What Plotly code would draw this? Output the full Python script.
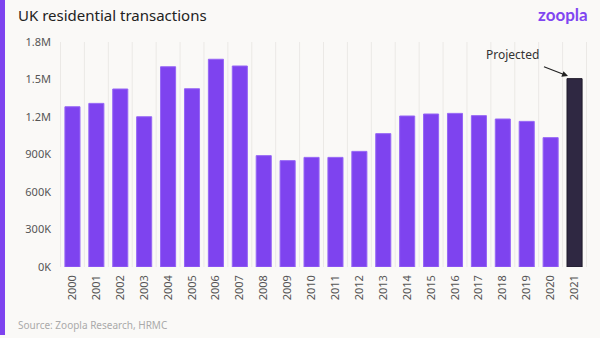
import plotly.graph_objects as go

years = [str(y) for y in range(2000, 2022)]
transactions = [1282000, 1309000, 1424000, 1202000, 1602000, 1426000, 1662000, 1608000,
                891000, 851000, 877000, 877000, 925000, 1067000, 1208000, 1224000,
                1229000, 1211000, 1184000, 1165000, 1035000, 1507000]
projected = [False] * 21 + [True]
tick_vals = [0, 300000, 600000, 900000, 1200000, 1500000, 1800000]
tick_text = ["0K", "300K", "600K", "900K", "1.2M", "1.5M", "1.8M"]

PURPLE = "#7e43ef"
DARK = "#2f2842"
bar_colors = [DARK if p else PURPLE for p in projected]
line_colors = ["#1e1a2a" if p else "#9666f5" for p in projected]

FONT = "Noto Sans"
fig = go.Figure(go.Bar(
    x=years, y=transactions,
    marker=dict(color=bar_colors, line=dict(color=line_colors, width=1)),
    hoverinfo="x+y",
))

W_PLOT = 600 - 60 - 13
fig.update_layout(
    width=600, height=338,
    margin=dict(l=60, r=13, t=42, b=71),
    paper_bgcolor="#faf9f7", plot_bgcolor="#faf9f7",
    bargap=0.37,
    showlegend=False,
    font=dict(family=FONT, color="#555555", size=11),
    xaxis=dict(type="category", categoryorder="array", categoryarray=years,
               tickangle=-90, showgrid=False, ticks="", showline=False, zeroline=False,
               ticklabelstandoff=5,
               tickfont=dict(size=11, color="#555555")),
    yaxis=dict(range=[0, 1800000], tickvals=tick_vals, ticktext=tick_text, showgrid=False,
               zeroline=False, showline=False, ticks="", ticklabelstandoff=8,
               tickfont=dict(size=11, color="#555555")),
    shapes=[dict(type="rect", xref="paper", yref="paper",
                 x0=-60 / W_PLOT, x1=-55 / W_PLOT, y0=-(71 - 3) / 225, y1=1 + 42 / 225,
                 fillcolor="#7e43ef", line=dict(width=0), layer="above")],
    annotations=[
        dict(text="UK residential transactions", xref="paper", yref="paper",
             x=-44 / W_PLOT, y=1 + 27 / 225, xanchor="left", yanchor="middle", showarrow=False,
             font=dict(family=FONT, size=15, color="#222222")),
        dict(text="<b>zoopla</b>", xref="paper", yref="paper",
             x=1 + 3 / W_PLOT, y=1 + 28 / 225, xanchor="right", yanchor="middle", showarrow=False,
             font=dict(family="Lato", size=17, color="#8046f1")),
        dict(text="Source: Zoopla Research, HRMC", xref="paper", yref="paper",
             x=-44 / W_PLOT, y=-(325 - 267) / 225, xanchor="left", yanchor="middle", showarrow=False,
             font=dict(family=FONT, size=10, color="#aaaaaa")),
    ],
)

# vertical gridlines at category boundaries
for i in range(len(years) + 1):
    fig.add_shape(type="line", xref="x", yref="paper", x0=i - 0.5, x1=i - 0.5, y0=0, y1=1,
                  line=dict(color="#ebe9e6", width=1), layer="below")

fig.add_annotation(text="Projected", x=len(years) - 1, y=transactions[-1], xref="x", yref="y",
                   ax=-62, ay=-24, showarrow=True, arrowhead=2, arrowsize=1, arrowwidth=1.2,
                   arrowcolor="#222222", standoff=7, startstandoff=6,
                   font=dict(family=FONT, size=12, color="#333333"))

fig.write_html("out.html")
